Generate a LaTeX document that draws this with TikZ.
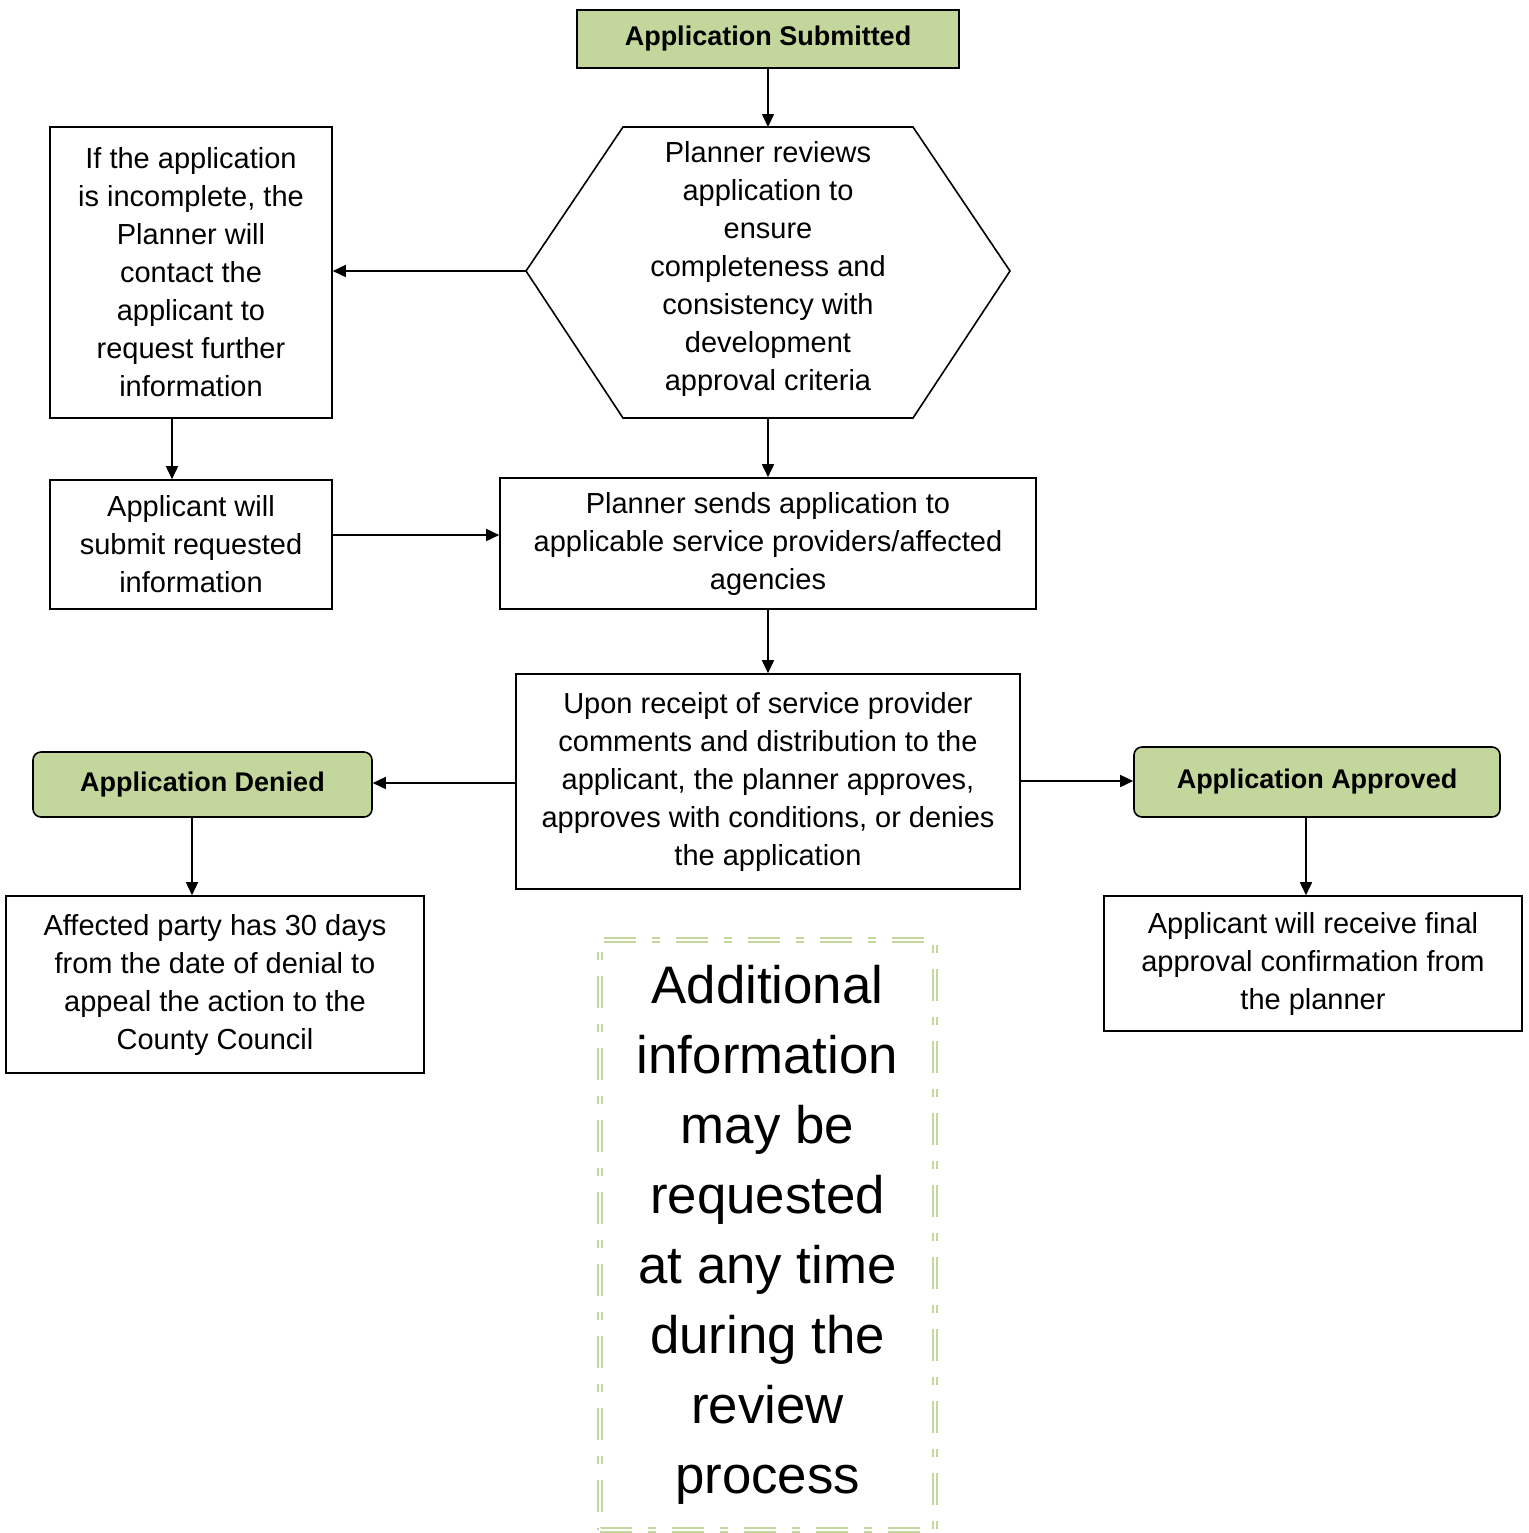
\documentclass[tikz,border=0pt]{standalone}
\usepackage{fontspec}
\setmainfont{Liberation Sans}
\usepackage{xcolor}
\definecolor{titlegreen}{HTML}{C3D69B}
\definecolor{notegreen}{HTML}{C3D69B}
\usetikzlibrary{arrows.meta, positioning, calc}

\begin{document}
\begin{tikzpicture}[x=0.5pt, y=-0.5pt,
  body/.style={font=\fontsize{14.5}{19}\selectfont, align=center},
  plain/.style={draw, line width=0.8pt, body, inner sep=0pt},
  title/.style={plain, fill=titlegreen, font=\bfseries\fontsize{13.5}{19}\selectfont},
  flow/.style={-{Triangle[length=6.5pt, width=6pt]}, line width=0.8pt}]
  \useasboundingbox (0,0) rectangle (1528,1533);

  % top of the chart
  \node[title, minimum width=191pt, minimum height=29pt] (submitted) at (768,39) {Application Submitted};
  \node[body] (review) at (768,268.5) {Planner reviews\\application to\\ensure\\completeness and\\consistency with\\development\\approval criteria};
  \coordinate (revT) at (768,127);
  \coordinate (revB) at (768,418);
  \coordinate (revL) at (526,271);
  \coordinate (revR) at (1010,271);
  \draw[line width=0.8pt] (revL) -- (623,127) -- (913,127) -- (revR) -- (913,418) -- (623,418) -- cycle;

  \node[plain, minimum width=141pt, minimum height=145.5pt] (incomplete) at (191,272.5) {If the application\\is incomplete, the\\Planner will\\contact the\\applicant to\\request further\\information};
  \node[plain, minimum width=141pt, minimum height=64.5pt] (resubmit) at (191,544.5) {Applicant will\\submit requested\\information};
  \node[plain, minimum width=268pt, minimum height=65.5pt] (sends) at (768,543.5) {Planner sends application to\\applicable service providers/affected\\agencies};
  \node[plain, minimum width=252pt, minimum height=107.5pt] (decision) at (768,781.5) {Upon receipt of service provider\\comments and distribution to the\\applicant, the planner approves,\\approves with conditions, or denies\\the application};

  % outcomes
  \node[title, rounded corners=4pt, minimum width=169.5pt, minimum height=32.5pt] (denied) at (202.5,784.5) {Application Denied};
  \node[title, rounded corners=4pt, minimum width=183pt, minimum height=35pt] (approved) at (1317,782) {Application Approved};
  \node[plain, minimum width=209pt, minimum height=88.5pt] (appeal) at (215,984.5) {Affected party has 30 days\\from the date of denial to\\appeal the action to the\\County Council};
  \node[plain, minimum width=209pt, minimum height=67.5pt] (confirm) at (1313,963.5) {Applicant will receive final\\approval confirmation from\\the planner};

  % side note
  \node[draw=notegreen, double=white, double distance=1.2pt, line width=1.1pt,
        dash pattern=on 16pt off 8pt on 4pt off 8pt,
        minimum width=167.5pt, minimum height=295pt, align=center,
        font=\fontsize{26.4}{35}\selectfont] (note) at (767.5,1235)
        {Additional\\information\\may be\\requested\\at any time\\during the\\review\\process};

  % connectors
  \draw[flow] (submitted) -- (revT);
  \draw[flow] (revL) -- (revL -| incomplete.east);
  \draw[flow] (incomplete.south -| 172,0) -- (resubmit.north -| 172,0);
  \draw[flow] (resubmit.east |- 0,535) -- (sends.west |- 0,535);
  \draw[flow] (revB) -- (sends);
  \draw[flow] (sends) -- (decision);
  \draw[flow] (decision.west |- 0,783) -- (denied.east |- 0,783);
  \draw[flow] (decision.east |- 0,781) -- (approved.west |- 0,781);
  \draw[flow] (denied.south -| 192,0) -- (appeal.north -| 192,0);
  \draw[flow] (approved.south -| 1306,0) -- (confirm.north -| 1306,0);
\end{tikzpicture}
\end{document}
